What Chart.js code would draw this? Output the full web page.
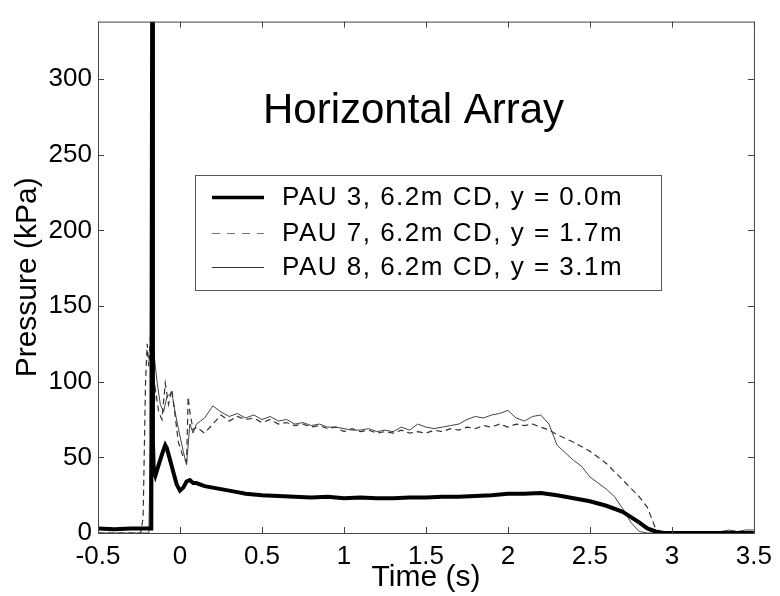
<!DOCTYPE html>
<html>
<head>
<meta charset="utf-8">
<script src="https://cdn.jsdelivr.net/npm/chart.js@4.4.1/dist/chart.umd.min.js"></script>
<style>
  html, body { margin: 0; padding: 0; background: #fff; }
  canvas { display: block; }
</style>
</head>
<body>
<canvas id="pressureChart" width="780" height="596"></canvas>
<script>
// Series (time in s, pressure in kPa)
const seriesLabels = ['PAU 3, 6.2m CD, y = 0.0m', 'PAU 7, 6.2m CD, y = 1.7m', 'PAU 8, 6.2m CD, y = 3.1m'];

const time3 = [-0.5, -0.4, -0.3, -0.2, -0.175, -0.17, -0.165, -0.16, -0.15, -0.13, -0.11, -0.09, -0.08, -0.06, -0.04, -0.02, 0.0, 0.02, 0.04, 0.06, 0.08, 0.1, 0.15, 0.2, 0.25, 0.3, 0.35, 0.4, 0.45, 0.5, 0.6, 0.7, 0.8, 0.9, 1.0, 1.1, 1.2, 1.3, 1.4, 1.5, 1.6, 1.7, 1.8, 1.9, 2.0, 2.1, 2.2, 2.3, 2.4, 2.5, 2.6, 2.7, 2.8, 2.85, 2.9, 2.95, 3.0, 3.5];
const pres3 = [3, 2.5, 3, 3, 3, 338, 60, 42, 38, 45, 52, 58, 56, 48, 40, 32, 28, 30, 34, 35, 33, 33, 31, 30, 29, 28, 27, 26, 25.5, 25, 24.5, 24, 23.5, 24, 23, 23.5, 23, 23, 23.5, 23.5, 24, 24, 24.5, 25, 26, 26, 26.5, 25, 23, 21, 18, 14, 7, 3, 1, 0, 0, 0];

const time7 = [-0.5, -0.24, -0.225, -0.21, -0.2, -0.19, -0.18, -0.17, -0.16, -0.15, -0.13, -0.11, -0.09, -0.07, -0.05, -0.03, -0.01, 0.02, 0.04, 0.05, 0.06, 0.08, 0.1, 0.15, 0.2, 0.25, 0.3, 0.35, 0.4, 0.45, 0.5, 0.55, 0.6, 0.65, 0.7, 0.75, 0.8, 0.85, 0.9, 0.95, 1.0, 1.05, 1.1, 1.15, 1.2, 1.25, 1.3, 1.35, 1.4, 1.45, 1.5, 1.55, 1.6, 1.65, 1.7, 1.75, 1.8, 1.85, 1.9, 1.95, 2.0, 2.05, 2.1, 2.15, 2.2, 2.25, 2.3, 2.4, 2.5, 2.6, 2.7, 2.8, 2.85, 2.9, 2.92, 3.5];
const pres7 = [0, 0, 10, 100, 125, 110, 130, 100, 80, 95, 80, 75, 99, 85, 95, 78, 60, 50, 47, 90, 80, 68, 70, 66, 72, 78, 74, 77, 75, 76, 73, 75, 72, 73, 71, 72, 70, 71, 69, 70, 67, 69, 67, 68, 66, 67, 66, 68, 66, 67, 66, 68, 67, 69, 68, 70, 69, 71, 70, 72, 70, 72, 71, 72, 70, 68, 65, 60, 54, 46, 35, 24, 17, 3, 0, 0];

const time8 = [-0.5, -0.19, -0.18, -0.17, -0.16, -0.15, -0.14, -0.12, -0.1, -0.08, -0.05, -0.03, -0.01, 0.02, 0.04, 0.06, 0.08, 0.1, 0.15, 0.2, 0.25, 0.3, 0.35, 0.4, 0.45, 0.5, 0.55, 0.6, 0.65, 0.7, 0.75, 0.8, 0.85, 0.9, 0.95, 1.0, 1.05, 1.1, 1.15, 1.2, 1.25, 1.3, 1.35, 1.4, 1.45, 1.5, 1.55, 1.6, 1.65, 1.7, 1.75, 1.8, 1.85, 1.9, 1.95, 2.0, 2.05, 2.1, 2.15, 2.2, 2.25, 2.3, 2.4, 2.45, 2.5, 2.6, 2.65, 2.7, 2.75, 2.8, 2.85, 3.25, 3.3, 3.35, 3.4, 3.45, 3.5];
const pres8 = [0, 0, 60, 139, 120, 110, 100, 85, 80, 90, 93, 80, 69, 54, 45, 72, 66, 72, 76, 84, 80, 77, 79, 76, 78, 75, 77, 74, 75, 72, 73, 71, 72, 70, 70, 69, 68, 68, 69, 67, 68, 67, 70, 68, 72, 70, 69, 70, 71, 72, 75, 77, 76, 78, 79, 81, 76, 74, 77, 78, 72, 58, 48, 44, 37, 29, 24, 16, 7, 1, 0, 0, 1, 2, 1, 2, 2];

const xTicks = [-0.5, 0, 0.5, 1, 1.5, 2, 2.5, 3, 3.5];
const yTicks = [0, 50, 100, 150, 200, 250, 300];

function toPoints(xs, ys) {
    return xs.map((x, i) => ({ x: x, y: ys[i] }));
}

const FONT = "'Liberation Sans', Arial, sans-serif";

// Draws the MATLAB style box, inward ticks, in-plot title and legend
const framePlugin = {
    id: 'frame',
    afterDatasetsDraw(chart) {
        const ctx = chart.ctx;
        const a = chart.chartArea;
        const xs = chart.scales.x;
        const ys = chart.scales.y;
        ctx.save();
        ctx.strokeStyle = '#444';
        ctx.lineWidth = 1;
        ctx.strokeRect(a.left + 0.5, a.top + 0.5, a.right - a.left, a.bottom - a.top);
        ctx.beginPath();
        xTicks.forEach(v => {
            const px = Math.round(xs.getPixelForValue(v)) + 0.5;
            ctx.moveTo(px, a.bottom); ctx.lineTo(px, a.bottom - 6);
            ctx.moveTo(px, a.top); ctx.lineTo(px, a.top + 6);
        });
        yTicks.forEach(v => {
            const py = Math.round(ys.getPixelForValue(v)) + 0.5;
            ctx.moveTo(a.left, py); ctx.lineTo(a.left + 6, py);
            ctx.moveTo(a.right, py); ctx.lineTo(a.right - 6, py);
        });
        ctx.stroke();

        // title inside the axes
        ctx.fillStyle = '#000';
        ctx.font = '42px ' + FONT;
        ctx.textBaseline = 'alphabetic';
        ctx.textAlign = 'left';
        ctx.fillText('Horizontal Array', 263, 123);

        // legend box
        ctx.fillStyle = '#fff';
        ctx.fillRect(195, 175, 466, 115);
        ctx.strokeStyle = '#555';
        ctx.strokeRect(195.5, 175.5, 466, 115);
        const rows = [197, 233, 267];
        const samples = [
            { w: 3.5, dash: [], color: '#000' },
            { w: 1.2, dash: [8, 7], color: '#777' },
            { w: 1, dash: [], color: '#333' }
        ];
        ctx.font = '26px ' + FONT;
        ctx.textBaseline = 'middle';
        ctx.letterSpacing = '1.5px';
        rows.forEach((y, i) => {
            ctx.beginPath();
            ctx.lineWidth = samples[i].w;
            ctx.strokeStyle = samples[i].color;
            ctx.setLineDash(samples[i].dash);
            ctx.moveTo(212, y + 0.5);
            ctx.lineTo(264, y + 0.5);
            ctx.stroke();
            ctx.setLineDash([]);
            ctx.fillStyle = '#000';
            ctx.fillText(seriesLabels[i], 282, y + 1);
        });
        ctx.restore();
    }
};

const ctx = document.getElementById('pressureChart').getContext('2d');
const pressureChart = new Chart(ctx, {
    type: 'line',
    data: {
        datasets: [
            {
                label: seriesLabels[0],
                data: toPoints(time3, pres3),
                borderColor: '#000',
                borderWidth: 4,
                pointRadius: 0,
                tension: 0
            },
            {
                label: seriesLabels[1],
                data: toPoints(time7, pres7),
                borderColor: '#333',
                borderWidth: 1.2,
                borderDash: [6, 4],
                pointRadius: 0,
                tension: 0
            },
            {
                label: seriesLabels[2],
                data: toPoints(time8, pres8),
                borderColor: '#444',
                borderWidth: 1,
                pointRadius: 0,
                tension: 0
            }
        ]
    },
    options: {
        responsive: false,
        animation: false,
        devicePixelRatio: 1,
        layout: { padding: { left: 0, right: 23, top: 9, bottom: 0 } },
        plugins: {
            legend: { display: false },
            tooltip: { enabled: false }
        },
        scales: {
            x: {
                type: 'linear',
                min: -0.5,
                max: 3.5,
                afterFit: scale => { scale.height = 63; },
                afterBuildTicks: scale => { scale.ticks = xTicks.map(v => ({ value: v })); },
                grid: { display: false, drawTicks: false },
                border: { display: false },
                ticks: {
                    color: '#000',
                    padding: 8,
                    maxRotation: 0,
                    font: { family: FONT, size: 26 },
                    callback: v => String(v)
                },
                title: {
                    display: true,
                    text: 'Time (s)',
                    color: '#000',
                    padding: { top: 0, bottom: 0 },
                    font: { family: FONT, size: 30 }
                }
            },
            y: {
                type: 'linear',
                min: 0,
                max: 338,
                afterFit: scale => { scale.width = 98; },
                afterBuildTicks: scale => { scale.ticks = yTicks.map(v => ({ value: v })); },
                grid: { display: false, drawTicks: false },
                border: { display: false },
                ticks: {
                    color: '#000',
                    padding: 6,
                    font: { family: FONT, size: 26 },
                    callback: v => String(v)
                },
                title: {
                    display: true,
                    text: 'Pressure (kPa)',
                    color: '#000',
                    padding: { top: 10, bottom: 0 },
                    font: { family: FONT, size: 30 }
                }
            }
        }
    },
    plugins: [framePlugin]
});
</script>
</body>
</html>
